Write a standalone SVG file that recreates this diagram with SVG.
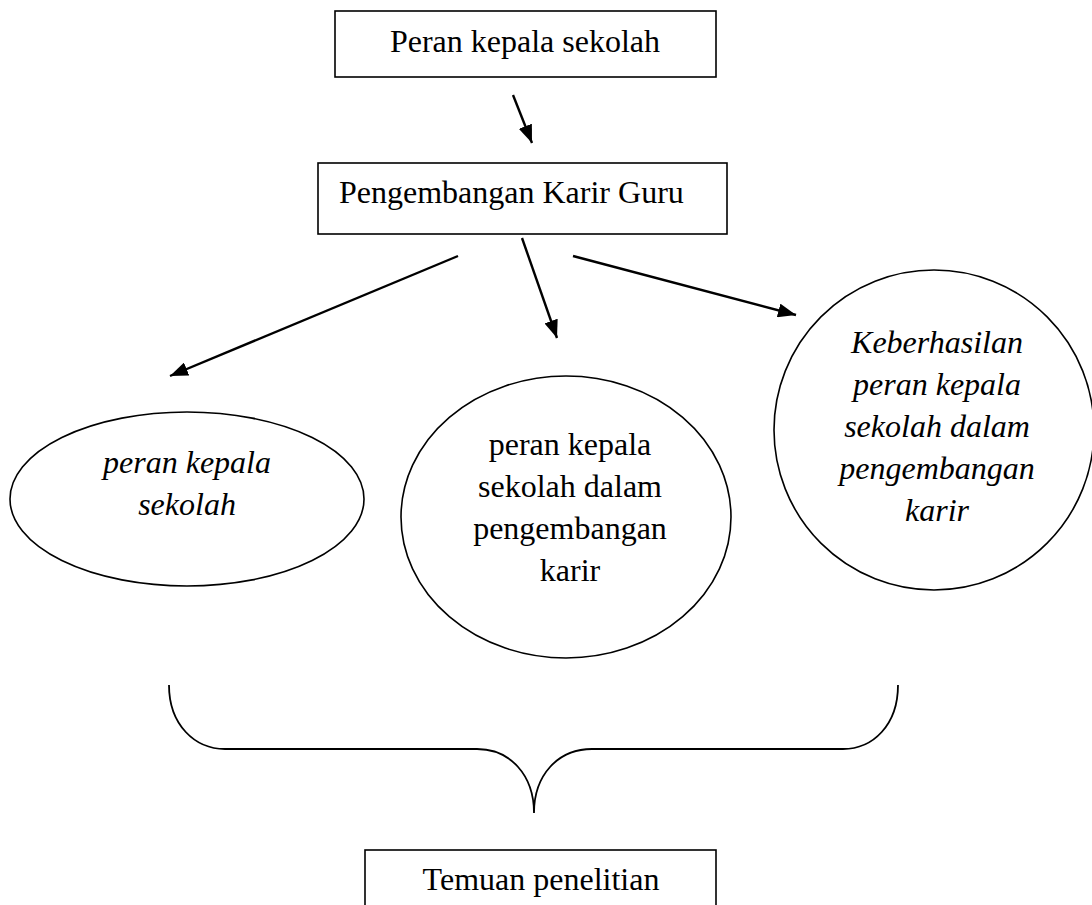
<svg xmlns="http://www.w3.org/2000/svg" width="1092" height="905" viewBox="0 0 1092 905">
<defs>
<marker id="ah" markerUnits="userSpaceOnUse" markerWidth="20" markerHeight="14" refX="18" refY="7" orient="auto">
<path d="M0,0 L18,7 L0,14 Z" fill="#000"/>
</marker>
<style>
.box{fill:#fff;stroke:#000;stroke-width:1.6}
.ell{fill:#fff;stroke:#000;stroke-width:1.6}
.t{font-family:"Liberation Serif","Times New Roman",serif;font-size:32px;fill:#000;text-anchor:middle}
.i{font-style:italic}
.arr{stroke:#000;stroke-width:2.4;fill:none;marker-end:url(#ah)}
.br{stroke:#000;stroke-width:1.8;fill:none}
</style>
</defs>
<rect width="1092" height="905" fill="#fff"/>
<g id="connectors">
<line class="arr" x1="513" y1="95" x2="532" y2="143"/>
<line class="arr" x1="458" y1="256" x2="170" y2="376"/>
<line class="arr" x1="522" y1="238" x2="557" y2="338"/>
<line class="arr" x1="573" y1="256" x2="796" y2="315"/>
<path class="br" d="M169,685 C169,725 195,749 225,749 L477,749 C510,749 534,775 534,813 C534,775 558,749 592,749 L843,749 C873,749 898,725 898,685"/>
</g>
<g id="n-peran">
<rect class="box" x="335" y="11" width="381" height="66"/>
<text class="t" x="525" y="52">Peran kepala sekolah</text>
</g>
<g id="n-pengembangan">
<rect class="box" x="318" y="163" width="409" height="71"/>
<text class="t" x="339" y="203" style="text-anchor:start">Pengembangan Karir Guru</text>
</g>
<g id="n-left">
<ellipse class="ell" cx="187" cy="499" rx="177" ry="87"/>
<text class="t i" x="187" y="473">peran kepala</text>
<text class="t i" x="187" y="515">sekolah</text>
</g>
<g id="n-mid">
<ellipse class="ell" cx="566" cy="517" rx="165" ry="141"/>
<text class="t" x="570" y="455">peran kepala</text>
<text class="t" x="570" y="497">sekolah dalam</text>
<text class="t" x="570" y="539">pengembangan</text>
<text class="t" x="570" y="581">karir</text>
</g>
<g id="n-right">
<ellipse class="ell" cx="934" cy="430" rx="160" ry="160"/>
<text class="t i" x="937" y="353">Keberhasilan</text>
<text class="t i" x="937" y="395">peran kepala</text>
<text class="t i" x="937" y="437">sekolah dalam</text>
<text class="t i" x="937" y="479">pengembangan</text>
<text class="t i" x="937" y="521">karir</text>
</g>
<g id="n-temuan">
<rect class="box" x="365" y="850" width="351" height="80"/>
<text class="t" x="541" y="890">Temuan penelitian</text>
</g>
</svg>
